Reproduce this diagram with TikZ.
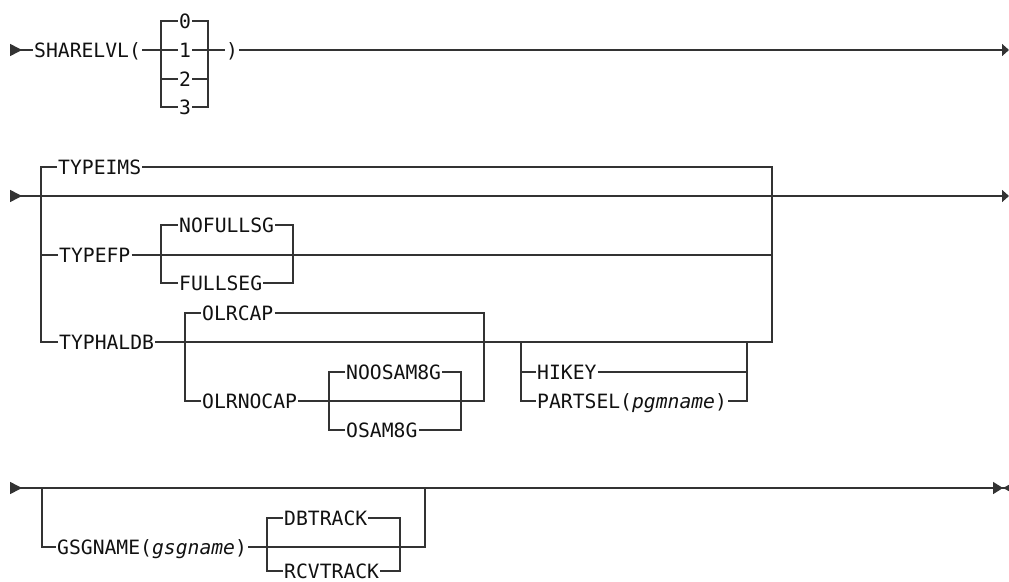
\documentclass[tikz,border=0pt]{standalone}
\usepackage{fontspec}
\usepackage{tikz}
\usetikzlibrary{arrows.meta, positioning, calc}
\newfontfamily\railfont{DejaVu Sans Mono}
\definecolor{railgray}{HTML}{333333}
\definecolor{inkblack}{HTML}{111111}
\tikzset{
    railin/.tip={Triangle[reversed, length=12pt, width=12pt]},
    railout/.tip={Triangle[length=7pt, width=12pt]},
    railstop/.tip={Triangle[length=10pt, width=12pt] Triangle[reversed, length=6pt, width=6pt]}
}

\begin{document}
\begin{tikzpicture}[x=1pt, y=-1pt,
    kw/.style={anchor=west, inner xsep=1pt, inner ysep=0pt, text height=14.4pt,
               text depth=0pt, text=inkblack,
               font=\railfont\fontsize{19.7pt}{22pt}\selectfont},
    rail/.style={draw=railgray, line width=1.6pt}
]
    \useasboundingbox (0,0) rectangle (1009,581);

    % SHARELVL
    \coordinate (in1) at (10,50);
    \coordinate (out1) at (1009,50);
    \node[kw] (sharelvl) at (33,50) {SHARELVL(};
    \foreach \d/\y in {0/21, 1/50, 2/79, 3/107}
        \node[kw, anchor=center] (lvl\d) at (185,\y) {\d};
    \node[kw, anchor=center] (rparen) at (232,50) {)};
    \coordinate (lvlL) at (161,21);
    \coordinate (lvlR) at (208,107);

    \draw[rail, railin-] (in1) -- (sharelvl.west);
    \draw[rail] (sharelvl.east) -- (lvl1.west);
    \draw[rail] (lvl3.west) -| (lvlL) -- (lvl0.west);
    \draw[rail] (lvl2.west) -- (lvl2.west -| lvlL);
    \draw[rail] (lvl0.east) -| (lvlR) -- (lvl3.east);
    \draw[rail] (lvl2.east) -- (lvl2.east -| lvlR);
    \draw[rail] (lvl1.east) -- (rparen.west);
    \draw[rail, -railout] (rparen.east) -- (out1);

    % TYPE
    \coordinate (in2) at (10,196);
    \coordinate (out2) at (1009,196);
    \node[kw] (typeims) at (57,167) {TYPEIMS};
    \node[kw] (typefp) at (58,255) {TYPEFP};
    \node[kw] (nofullsg) at (178,225) {NOFULLSG};
    \node[kw] (fullseg) at (178,283) {FULLSEG};
    \node[kw] (typhaldb) at (58,342) {TYPHALDB};
    \node[kw] (olrcap) at (201,313) {OLRCAP};
    \node[kw] (olrnocap) at (201,401) {OLRNOCAP};
    \node[kw] (noosam8g) at (345,372) {NOOSAM8G};
    \node[kw] (osam8g) at (345,430) {OSAM8G};
    \node[kw] (hikey) at (536,372) {HIKEY};
    \node[kw] (partsel) at (536,401) {PARTSEL(\textit{pgmname})};
    \coordinate (typeL) at (41,167);
    \coordinate (typeR) at (772,342);
    \coordinate (fpL) at (161,225);
    \coordinate (fpR) at (293,283);
    \coordinate (olrL) at (185,313);
    \coordinate (olrR) at (484,401);
    \coordinate (osamL) at (329,372);
    \coordinate (osamR) at (461,430);
    \coordinate (keyL) at (521,342);
    \coordinate (keyR) at (747,342);

    \draw[rail, railin-railout] (in2) -- (out2);
    \draw[rail] (typhaldb.west) -| (typeL) -- (typeims.west);
    \draw[rail] (typefp.west) -- (typefp.west -| typeL);
    \draw[rail] (typeims.east) -| (typeR) -- (typhaldb.east);
    \draw[rail] (typefp.east) -- (typefp.east -| typeR);
    \draw[rail] (fullseg.west) -| (fpL) -- (nofullsg.west);
    \draw[rail] (nofullsg.east) -| (fpR) -- (fullseg.east);
    \draw[rail] (olrnocap.west) -| (olrL) -- (olrcap.west);
    \draw[rail] (olrcap.east) -| (olrR) -- (olrnocap.east);
    \draw[rail] (osam8g.west) -| (osamL) -- (noosam8g.west);
    \draw[rail] (noosam8g.east) -| (osamR) -- (osam8g.east);
    \draw[rail] (partsel.west) -| (keyL);
    \draw[rail] (hikey.west) -- (hikey.west -| keyL);
    \draw[rail] (partsel.east) -| (keyR);
    \draw[rail] (hikey.east) -- (hikey.east -| keyR);

    % GSGNAME
    \coordinate (in3) at (10,488);
    \coordinate (out3) at (1009,488);
    \node[kw] (gsgname) at (56,547) {GSGNAME(\textit{gsgname})};
    \node[kw] (dbtrack) at (283,518) {DBTRACK};
    \node[kw] (rcvtrack) at (283,571) {RCVTRACK};
    \coordinate (gsgL) at (42,488);
    \coordinate (gsgR) at (425,488);
    \coordinate (trkL) at (267,518);
    \coordinate (trkR) at (400,571);

    \draw[rail, railin-railstop] (in3) -- (out3);
    \draw[rail] (gsgname.west) -| (gsgL);
    \draw[rail] (gsgname.east) -| (gsgR);
    \draw[rail] (rcvtrack.west) -| (trkL) -- (dbtrack.west);
    \draw[rail] (dbtrack.east) -| (trkR) -- (rcvtrack.east);
\end{tikzpicture}
\end{document}
